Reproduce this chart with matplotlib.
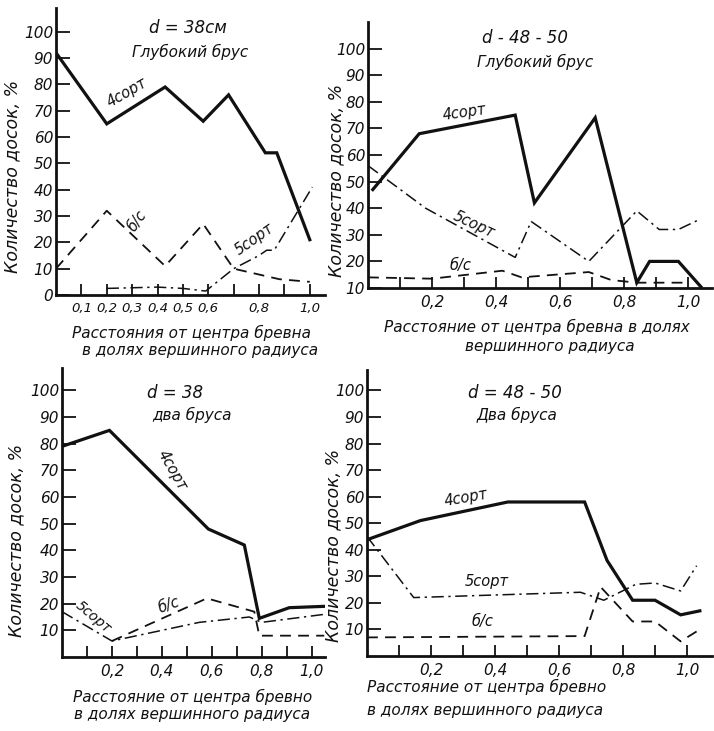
import matplotlib
matplotlib.use('Agg')
import matplotlib.pyplot as plt

# ── Data ────────────────────────────────────────────────────────────────────
# panel 1: d = 38 см, глубокий брус
p1_x4 = [0.0, 0.2, 0.43, 0.58, 0.68, 0.825, 0.87, 1.0]
p1_y4 = [92, 65, 79, 66, 76, 54, 54, 21]
p1_xbc = [0.0, 0.2, 0.43, 0.58, 0.7, 0.88, 1.0]
p1_ybc = [10, 32, 11, 27, 10, 6, 5]
p1_x5 = [0.2, 0.4, 0.5, 0.59, 0.7, 0.8, 0.83, 0.86, 1.01]
p1_y5 = [2.5, 3, 2.5, 1.5, 10, 15, 17, 17, 41]

# panel 2: d = 48-50, глубокий брус
p2_x4 = [0.015, 0.16, 0.46, 0.52, 0.71, 0.84, 0.88, 0.97, 1.04]
p2_y4 = [47, 68, 75, 42, 74, 12, 20, 20, 10.5]
p2_x5 = [0.0, 0.18, 0.46, 0.51, 0.69, 0.84, 0.91, 0.97, 1.04]
p2_y5 = [56, 40, 21.5, 35, 20, 39, 32, 32, 36]
p2_xbc = [0.0, 0.2, 0.42, 0.48, 0.69, 0.76, 0.84, 1.0]
p2_ybc = [14, 13.5, 16.5, 14, 16, 13, 12, 12]

# panel 3: d = 38, два бруса
p3_x4 = [0.0, 0.19, 0.586, 0.73, 0.79, 0.91, 1.05]
p3_y4 = [79, 85, 48, 42, 14.5, 18.5, 19]
p3_x5 = [0.0, 0.2, 0.55, 0.75, 0.8, 1.05]
p3_y5 = [17, 6, 13, 15, 13, 16]
p3_xbc = [0.2, 0.58, 0.77, 0.79, 1.05]
p3_ybc = [6, 22, 17, 8, 8]

# panel 4: d = 48-50, два бруса
p4_x4 = [0.005, 0.167, 0.44, 0.68, 0.75, 0.83, 0.9, 0.98, 1.04]
p4_y4 = [44, 51, 58, 58, 36, 21, 21, 15.5, 17]
p4_x5 = [0.0, 0.146, 0.667, 0.74, 0.84, 0.9, 0.98, 1.03]
p4_y5 = [45, 22, 24, 21, 27, 27.5, 24.5, 34]
p4_xbc = [0.0, 0.68, 0.73, 0.83, 0.9, 0.98, 1.04]
p4_ybc = [7, 7.5, 26, 13, 13, 5.5, 10]

# ── Style ────────────────────────────────────────────────────────────────────
INK = '#111111'
plt.rcParams['font.family'] = ['DejaVu Sans']
plt.rcParams['font.style'] = 'italic'

W, H = 714, 731
fig = plt.figure(figsize=(W / 100, H / 100), dpi=100)
fig.patch.set_facecolor('white')


def px_axes(x0, x1, ybot, ytop):
    # axes rectangle given in picture pixels
    return fig.add_axes([x0 / W, 1 - ybot / H, (x1 - x0) / W, (ybot - ytop) / H])


def ftext(x, y, s, size=11, ha='center', rot=0):
    fig.text(x / W, 1 - y / H, s, fontsize=size, ha=ha, va='center',
             rotation=rot, color=INK, style='italic')


def style_axes(ax, xmax, ymin, ymax, yticks, xlabels, xsize=11):
    ax.set_xlim(0, xmax)
    ax.set_ylim(ymin, ymax)
    for s in ('top', 'right'):
        ax.spines[s].set_visible(False)
    for s in ('left', 'bottom'):
        ax.spines[s].set_linewidth(2.0)
        ax.spines[s].set_color(INK)
    ax.set_yticks(yticks)
    ax.set_yticklabels([str(v) for v in yticks], fontsize=11, style='italic')
    xt = [round(0.1 * i, 1) for i in range(1, 11)]
    ax.set_xticks(xt)
    ax.set_xticklabels([str(v).replace('.', ',') if v in xlabels else '' for v in xt],
                       fontsize=xsize, style='italic')
    ax.tick_params(axis='y', direction='in', length=10, width=1.3, pad=2,
                   colors=INK)
    ax.tick_params(axis='x', direction='in', length=8, width=1.3, pad=5,
                   colors=INK)
    ax.set_facecolor('white')


def draw(ax, x4, y4, x5, y5, xbc, ybc):
    ax.plot(x4, y4, color=INK, lw=2.3, solid_joinstyle='miter')
    ax.plot(x5, y5, color=INK, lw=1.1, dashes=(8, 3, 1.5, 3))
    ax.plot(xbc, ybc, color=INK, lw=1.3, dashes=(6, 4))


def lab(ax, x, y, s, rot=0, size=10.5):
    ax.text(x, y, s, rotation=rot, fontsize=size, ha='center', va='center',
            color=INK, style='italic', rotation_mode='anchor')


# ── Panel 1 ──────────────────────────────────────────────────────────────────
ax1 = px_axes(56, 325, 295, 8)
style_axes(ax1, 1.06, 0, 109, list(range(0, 101, 10)),
           [0.1, 0.2, 0.3, 0.4, 0.5, 0.6, 0.8, 1.0], xsize=9.5)
draw(ax1, p1_x4, p1_y4, p1_x5, p1_y5, p1_xbc, p1_ybc)
lab(ax1, 0.28, 77, '4сорт', 30)
lab(ax1, 0.32, 28, 'б/с', 55)
lab(ax1, 0.78, 21, '5сорт', 35)

# ── Panel 2 ──────────────────────────────────────────────────────────────────
ax2 = px_axes(368, 712, 288, 22)
style_axes(ax2, 1.075, 10, 110, list(range(10, 101, 10)),
           [0.2, 0.4, 0.6, 0.8, 1.0])
draw(ax2, p2_x4, p2_y4, p2_x5, p2_y5, p2_xbc, p2_ybc)
lab(ax2, 0.30, 76, '4сорт', 8)
lab(ax2, 0.33, 34, '5сорт', -25)
lab(ax2, 0.29, 18.5, 'б/с', 0)

# ── Panel 3 ──────────────────────────────────────────────────────────────────
ax3 = px_axes(62, 325, 657, 368)
style_axes(ax3, 1.053, 0, 108.4, list(range(10, 101, 10)),
           [0.2, 0.4, 0.6, 0.8, 1.0])
draw(ax3, p3_x4, p3_y4, p3_x5, p3_y5, p3_xbc, p3_ybc)
lab(ax3, 0.44, 70, '4сорт', -60)
lab(ax3, 0.43, 19.5, 'б/с', 20)
lab(ax3, 0.125, 15, '5сорт', -40, size=10)

# ── Panel 4 ──────────────────────────────────────────────────────────────────
ax4 = px_axes(367, 712, 656, 370)
style_axes(ax4, 1.078, 0, 107.7, list(range(10, 101, 10)),
           [0.2, 0.4, 0.6, 0.8, 1.0])
draw(ax4, p4_x4, p4_y4, p4_x5, p4_y5, p4_xbc, p4_ybc)
lab(ax4, 0.31, 59.5, '4сорт', 10)
lab(ax4, 0.375, 28, '5сорт', 0)
lab(ax4, 0.36, 13, 'б/с', 0)

# ── Titles ───────────────────────────────────────────────────────────────────
ftext(188, 28, 'd = 38см', 12)
ftext(190, 52, 'Глубокий брус', 11)
ftext(525, 38, 'd - 48 - 50', 12)
ftext(535, 62, 'Глубокий брус', 11)
ftext(175, 393, 'd = 38', 12)
ftext(192, 415, 'два бруса', 11)
ftext(515, 393, 'd = 48 - 50', 12)
ftext(517, 415, 'Два бруса', 11)

# ── Axis captions ────────────────────────────────────────────────────────────
ftext(192, 333, 'Расстояния от центра бревна', 11)
ftext(200, 350, 'в долях вершинного радиуса', 11)
ftext(537, 327, 'Расстояние от центра бревна в долях', 11)
ftext(550, 347, 'вершинного радиуса', 11)
ftext(193, 697, 'Расстояние от центра бревно', 11)
ftext(192, 715, 'в долях вершинного радиуса', 11)
ftext(367, 687, 'Расстояние от центра бревно', 11, ha='left')
ftext(367, 710, 'в долях вершинного радиуса', 11, ha='left')

ftext(12, 176, 'Количество досок, %', 12.5, rot=90)
ftext(336, 180, 'Количество досок, %', 12.5, rot=90)
ftext(16, 540, 'Количество досок, %', 12.5, rot=90)
ftext(333, 545, 'Количество досок, %', 12.5, rot=90)

fig.savefig('out.png', dpi=100, facecolor='white')
